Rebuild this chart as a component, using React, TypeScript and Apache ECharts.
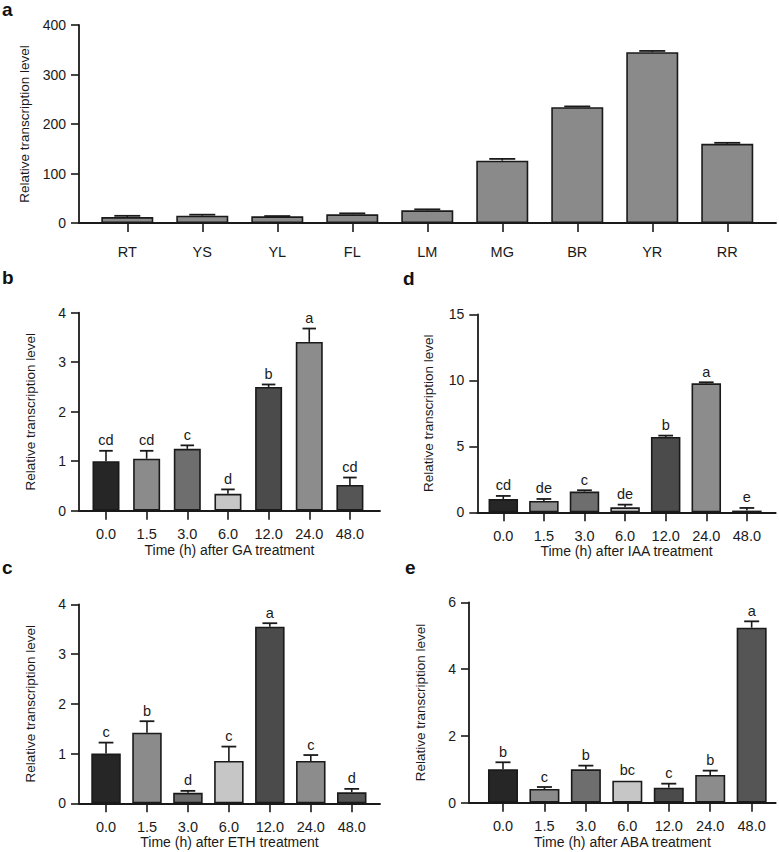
import React, { useEffect, useRef } from "react";
import * as echarts from "echarts";

// ---------- data ----------
const tissues = ["RT", "YS", "YL", "FL", "LM", "MG", "BR", "YR", "RR"];
const tissueMean = [12, 14.8, 13.5, 17.5, 25.6, 126, 234, 345, 160];
const tissueErr = [2.5, 2, 0.5, 2, 2, 3.5, 1.5, 2.6, 2];

const timePoints = ["0.0", "1.5", "3.0", "6.0", "12.0", "24.0", "48.0"];

const gaMean = [1.0, 1.05, 1.25, 0.34, 2.5, 3.41, 0.52];
const gaErr = [0.21, 0.16, 0.07, 0.09, 0.05, 0.27, 0.15];
const gaLetters = ["cd", "cd", "c", "d", "b", "a", "cd"];

const iaaMean = [1.0, 0.86, 1.57, 0.38, 5.71, 9.77, 0.13];
const iaaErr = [0.24, 0.15, 0.1, 0.2, 0.1, 0.08, 0.2];
const iaaLetters = ["cd", "de", "c", "de", "b", "a", "e"];

const ethMean = [1.0, 1.42, 0.21, 0.85, 3.55, 0.85, 0.22];
const ethErr = [0.22, 0.23, 0.04, 0.29, 0.07, 0.12, 0.07];
const ethLetters = ["c", "b", "d", "c", "a", "c", "d"];

const abaMean = [1.0, 0.41, 1.0, 0.66, 0.45, 0.83, 5.24];
const abaErr = [0.21, 0.06, 0.11, 0, 0.12, 0.13, 0.19];
const abaLetters = ["b", "c", "b", "bc", "c", "b", "a"];

const timeColors = ["#262626", "#8b8b8b", "#6e6e6e", "#c6c6c6", "#4b4b4b", "#8c8c8c", "#555555"];
const tissueColor = "#8a8a8a";

const FONT = "'Liberation Sans', Arial, Helvetica, sans-serif";
const INK = "#1a1a1a";

type Panel = {
  letter: string;
  cats: string[];
  mean: number[];
  err: number[];
  letters: string[] | null;
  colors: string[];
  yMax: number;
  yInterval: number;
  xName: string;
  grid: { left: number; right: number; top: number; bottom: number };
  xMin: number;
  xMax: number;
  barWidth: number;
  letterPos: { left: number; top: number };
  catLabelMargin: number;
};

const panels: Panel[] = [
  {
    letter: "a",
    cats: tissues,
    mean: tissueMean,
    err: tissueErr,
    letters: null,
    colors: tissues.map(() => tissueColor),
    yMax: 400,
    yInterval: 100,
    xName: "",
    grid: { left: 79, right: 3, top: 25, bottom: 629 },
    xMin: -0.644,
    xMax: 8.65,
    barWidth: 52,
    letterPos: { left: 2, top: 0 },
    catLabelMargin: 21,
  },
  {
    letter: "b",
    cats: timePoints,
    mean: gaMean,
    err: gaErr,
    letters: gaLetters,
    colors: timeColors,
    yMax: 4,
    yInterval: 1,
    xName: "Time (h) after GA treatment",
    grid: { left: 79, right: 399, top: 312.7, bottom: 341.3 },
    xMin: -0.664,
    xMax: 6.74,
    barWidth: 27,
    letterPos: { left: 2, top: 268 },
    catLabelMargin: 16,
  },
  {
    letter: "d",
    cats: timePoints,
    mean: iaaMean,
    err: iaaErr,
    letters: iaaLetters,
    colors: timeColors,
    yMax: 15,
    yInterval: 5,
    xName: "Time (h) after IAA treatment",
    grid: { left: 477.3, right: 3.3, top: 314.3, bottom: 339.7 },
    xMin: -0.64,
    xMax: 6.71,
    barWidth: 29.5,
    letterPos: { left: 403, top: 269 },
    catLabelMargin: 16,
  },
  {
    letter: "c",
    cats: timePoints,
    mean: ethMean,
    err: ethErr,
    letters: ethLetters,
    colors: timeColors,
    yMax: 4,
    yInterval: 1,
    xName: "Time (h) after ETH treatment",
    grid: { left: 79, right: 399, top: 604.3, bottom: 48.7 },
    xMin: -0.66,
    xMax: 6.69,
    barWidth: 29.5,
    letterPos: { left: 2, top: 558 },
    catLabelMargin: 16,
  },
  {
    letter: "e",
    cats: timePoints,
    mean: abaMean,
    err: abaErr,
    letters: abaLetters,
    colors: timeColors,
    yMax: 6,
    yInterval: 2,
    xName: "Time (h) after ABA treatment",
    grid: { left: 469, right: 3.3, top: 602.3, bottom: 49.3 },
    xMin: -0.82,
    xMax: 6.58,
    barWidth: 30,
    letterPos: { left: 405, top: 558 },
    catLabelMargin: 16,
  },
];

export default function App() {
  const ref = useRef<HTMLDivElement>(null);

  useEffect(() => {
    if (!ref.current) return;
    document.body.style.margin = "0";
    const chart = echarts.init(ref.current, undefined, { renderer: "svg" });

    const grid: any[] = [];
    const xAxis: any[] = [];
    const yAxis: any[] = [];
    const series: any[] = [];
    const graphic: any[] = [];

    panels.forEach((p, pi) => {
      grid.push({ ...p.grid, containLabel: false });
      const idx = p.cats.map((_, i) => i);
      xAxis.push({
        type: "value",
        gridIndex: pi,
        min: p.xMin,
        max: p.xMax,
        splitLine: { show: false },
        axisLine: { show: true, onZero: false, lineStyle: { color: INK, width: 1.8 } },
        axisTick: { show: true, customValues: idx, length: 9, lineStyle: { color: INK, width: 1.6 } },
        axisLabel: {
          customValues: idx,
          formatter: (v: number) => p.cats[Math.round(v)] ?? "",
          color: INK,
          fontFamily: FONT,
          fontSize: 14.5,
          margin: p.catLabelMargin,
        },
        name: p.xName,
        nameLocation: "middle",
        nameGap: 30,
        nameTextStyle: { color: INK, fontFamily: FONT, fontSize: 14 },
      });
      yAxis.push({
        type: "value",
        gridIndex: pi,
        min: 0,
        max: p.yMax,
        interval: p.yInterval,
        splitLine: { show: false },
        axisLine: { show: true, onZero: false, lineStyle: { color: INK, width: 1.8 } },
        axisTick: { show: true, length: 8, lineStyle: { color: INK, width: 1.6 } },
        axisLabel: { color: INK, fontFamily: FONT, fontSize: 14, margin: 13 },
        name: "Relative transcription level",
        nameLocation: "middle",
        nameGap: 42,
        nameTextStyle: { color: INK, fontFamily: FONT, fontSize: 13.5 },
      });
      series.push({
        type: "bar",
        xAxisIndex: pi,
        yAxisIndex: pi,
        barWidth: p.barWidth,
        data: p.mean.map((v, i) => ({
          value: [i, v],
          itemStyle: { color: p.colors[i], borderColor: INK, borderWidth: 1.6 },
        })),
        z: 2,
      });
      series.push({
        type: "custom",
        xAxisIndex: pi,
        yAxisIndex: pi,
        data: p.mean.map((v, i) => [i, v, p.err[i]]),
        z: 3,
        renderItem: (params: any, api: any) => {
          const x = api.value(0);
          const v = api.value(1);
          const e = api.value(2);
          const top = api.coord([x, v]);
          const et = api.coord([x, v + e]);
          const cap = p.barWidth / 2;
          const children: any[] = [];
          if (e > 0) {
            children.push({
              type: "line",
              shape: { x1: top[0], y1: top[1], x2: et[0], y2: et[1] },
              style: { stroke: INK, lineWidth: 1.6 },
            });
            children.push({
              type: "line",
              shape: { x1: et[0] - cap / 2, y1: et[1], x2: et[0] + cap / 2, y2: et[1] },
              style: { stroke: INK, lineWidth: 1.8 },
            });
          }
          if (p.letters) {
            children.push({
              type: "text",
              x: et[0],
              y: et[1] - 3,
              style: {
                text: p.letters[params.dataIndex],
                fill: INK,
                font: `14.5px ${FONT}`,
                align: "center",
                verticalAlign: "bottom",
              },
            });
          }
          return { type: "group", children };
        },
      });
      graphic.push({
        type: "text",
        left: p.letterPos.left,
        top: p.letterPos.top,
        style: { text: p.letter, fill: "#111", font: `bold 19px ${FONT}` },
      });
    });

    chart.setOption({
      animation: false,
      backgroundColor: "#ffffff",
      grid,
      xAxis,
      yAxis,
      series,
      graphic,
    });

    return () => chart.dispose();
  }, []);

  return (
    <div
      ref={ref}
      style={{ position: "absolute", left: 0, top: 0, width: 779, height: 852, background: "#fff" }}
    />
  );
}
